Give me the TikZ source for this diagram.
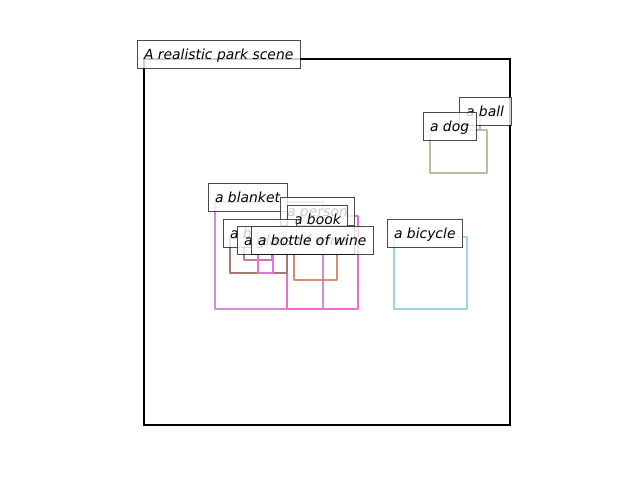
\documentclass[tikz,border=0pt]{standalone}
\usepackage{fontspec}
\setmainfont{DejaVu Sans}
\definecolor{blanketc}{HTML}{D98BDA}
\definecolor{personc}{HTML}{E96CDF}
\definecolor{basketc}{HTML}{A47A70}
\definecolor{glassc}{HTML}{C7789E}
\definecolor{bottlec}{HTML}{EE6CE6}
\definecolor{bookc}{HTML}{D68B76}
\definecolor{bikec}{HTML}{9DD6E1}
\definecolor{dogc}{HTML}{BFBC9B}
\definecolor{ballc}{HTML}{8FC3DA}
\begin{document}
\begin{tikzpicture}[x=1pt,y=-1pt,
  bbox/.style={line width=2.6pt, line join=round},
  lbl/.style={anchor=base west, xshift=-7pt, fill=white, fill opacity=0.8,
    text opacity=1, draw=black, draw opacity=0.7, line width=0.9pt,
    inner xsep=7pt, inner ysep=0pt, outer sep=0pt, text height=19pt, text depth=9pt,
    font=\fontsize{13.9}{16}\selectfont\itshape}]
\useasboundingbox (0,0) rectangle (640,480);
% frame
\draw[line width=2.6pt] (144,59) rectangle (510,425);
% boxes
\draw[bbox, blanketc] (215,202) rectangle (323,309);
\draw[bbox, personc] (287,216) rectangle (358,309);
\draw[bbox, bookc] (294,224) rectangle (337,280);
\draw[bbox, basketc] (230,238) rectangle (287,273);
\draw[bbox, glassc] (244,245) rectangle (272,260);
\draw[bbox, bottlec] (258,245) rectangle (273,273);
\draw[bbox, bikec] (394,237) rectangle (467,309);
\draw[bbox, dogc] (430,130) rectangle (487,173);
\draw[bbox, ballc] (466,116) rectangle (480,130);
% labels
\node[lbl] (title) at (144,59) {A realistic park scene};
\node[lbl] (blanket) at (215,202) {a blanket};
\node[lbl] (person) at (287,216) {a person};
\node[lbl] (book) at (294,224) {a book};
\node[lbl] (basket) at (230,238) {a basket};
\node[lbl] (glass) at (244,245) {a glass of wine};
\node[lbl] (bottle) at (258,245) {a bottle of wine};
\node[lbl] (bike) at (394,238) {a bicycle};
\node[lbl] (ball) at (466,116) {a ball};
\node[lbl] (dog) at (430,131) {a dog};
\end{tikzpicture}
\end{document}
